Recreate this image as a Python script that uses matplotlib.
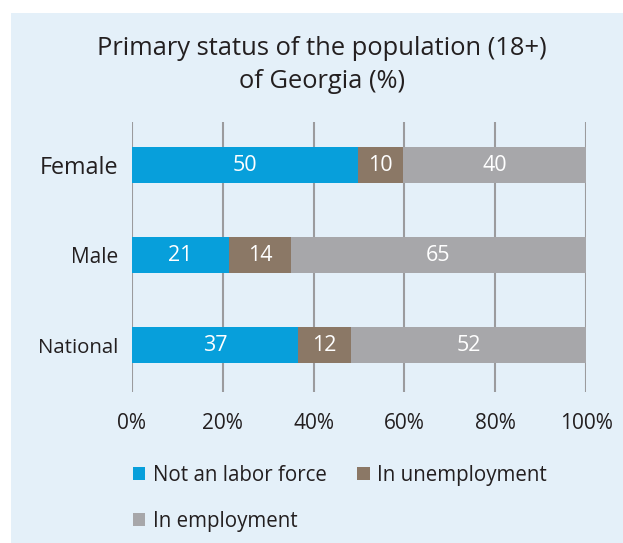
import matplotlib
matplotlib.use("Agg")
import matplotlib.pyplot as plt
from matplotlib.patches import Rectangle, Patch

plt.rcParams['font.family'] = ['Open Sans', 'DejaVu Sans']

categories = ["National", "Male", "Female"]
not_labor = [36.6, 21.4, 49.8]
unemployed = [11.6, 13.6, 9.9]
employed = [51.8, 65.0, 40.3]
series_names = ["Not an labor force", "In unemployment", "In employment"]
tick_values = [0, 20, 40, 60, 80, 100]
tick_labels = ["0%", "20%", "40%", "60%", "80%", "100%"]
title = "Primary status of the population (18+)\nof Georgia (%)"

colors = ["#079FDB", "#8B7866", "#A7A7AA"]
bg = "#E4F0F9"
txt = "#231F20"
grid_c = "#9B9B9E"
cat_sizes = [14.7, 15, 16.8]

W, H = 623, 543
fig = plt.figure(figsize=(W / 100, H / 100), dpi=100)
fig.patch.set_facecolor("white")
fig.patches.append(Rectangle((11 / W, 0), 1 - 11 / W, 1 - 13 / H,
                             transform=fig.transFigure, facecolor=bg,
                             edgecolor="none", zorder=-10))

ax = fig.add_axes([132 / W, 151 / H, 454 / W, 270 / H])
ax.set_zorder(5)
ax.set_facecolor("none")
for s in ax.spines.values():
    s.set_visible(False)

y = list(range(len(categories)))
left = [0.0] * len(categories)
for vals, c in zip([not_labor, unemployed, employed], colors):
    ax.barh(y, vals, left=left, height=0.4, color=c, zorder=3)
    for yi, v, l in zip(y, vals, left):
        ax.text(l + v / 2, yi, f"{v:.0f}", ha="center", va="center",
                color="white", fontsize=15.5, zorder=4)
    left = [a + b for a, b in zip(left, vals)]

ax.set_xlim(0, 100)
ax.set_ylim(-0.522, 2.478)
ax.set_xticks(tick_values)
ax.set_xticklabels(tick_labels, fontsize=15, color=txt)
ax.set_yticks(y)
ax.set_yticklabels(categories, color=txt)
for lbl, fs in zip(ax.get_yticklabels(), cat_sizes):
    lbl.set_fontsize(fs)
ax.tick_params(axis="x", length=0, pad=15)
ax.tick_params(axis="y", length=0, pad=10)
ax.xaxis.grid(True, color=grid_c, linewidth=1.5, zorder=1)
ax.set_axisbelow(True)

fig.text(322 / W, 1 - 65 / H, title, ha="center", va="center",
         fontsize=18.4, color=txt, linespacing=1.4)

handles = [Patch(facecolor=colors[0]), Patch(facecolor=colors[2]),
           Patch(facecolor=colors[1])]
labels = [series_names[0], series_names[2], series_names[1]]
fig.legend(handles, labels, loc="upper left",
           bbox_to_anchor=(133 / W, 1 - 465 / H), ncol=2, frameon=False,
           fontsize=14.8, handlelength=0.6, handleheight=0.6,
           handletextpad=0.35, columnspacing=1.5, labelspacing=1.2,
           borderpad=0, borderaxespad=0, labelcolor=txt)

fig.savefig("out.png", dpi=100, facecolor=fig.get_facecolor())
